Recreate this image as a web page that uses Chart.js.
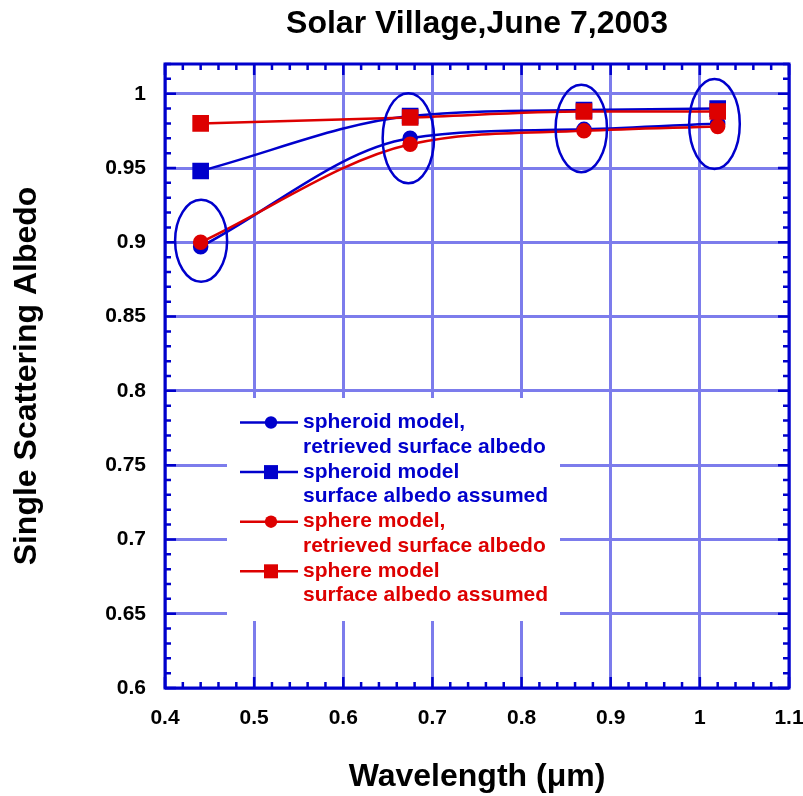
<!DOCTYPE html>
<html>
<head>
<meta charset="utf-8">
<title>Solar Village,June 7,2003</title>
<script src="https://cdn.jsdelivr.net/npm/chart.js@4.4.1/dist/chart.umd.min.js"></script>
<style>
  html, body { margin: 0; padding: 0; background: #fff; }
  canvas { display: block; }
</style>
</head>
<body>
<canvas id="albedo-chart" width="803" height="796"></canvas>
<script>
// 波长 (μm)
const wavelengths = [0.44, 0.675, 0.87, 1.02];

// 单次散射反照率
const spheroidRetrieved = [0.897, 0.970, 0.976, 0.980];
const spheroidAssumed   = [0.948, 0.985, 0.989, 0.990];
const sphereRetrieved   = [0.900, 0.966, 0.975, 0.978];
const sphereAssumed     = [0.980, 0.984, 0.988, 0.988];

// 图例文字 (两行)
const seriesNames = [
    ['spheroid model,', 'retrieved surface albedo'],
    ['spheroid model', 'surface albedo assumed'],
    ['sphere model,', 'retrieved surface albedo'],
    ['sphere model', 'surface albedo assumed']
];

// 刻度
const xTicks = [0.4, 0.5, 0.6, 0.7, 0.8, 0.9, 1, 1.1];
const yTicks = [0.6, 0.65, 0.7, 0.75, 0.8, 0.85, 0.9, 0.95, 1];

// 圈出的点 (中心, 数据坐标)
const circledAt = [[0.4405, 0.901], [0.673, 0.970], [0.867, 0.9766], [1.0164, 0.9796]];

const BLUE = '#0000cc';
const RED = '#dd0000';
const GRID = 'rgb(124,124,236)';
const FONT = 'Liberation Sans, Arial, sans-serif';

function toPoints(ys) {
    return wavelengths.map((x, i) => ({ x: x, y: ys[i] }));
}

function makeSeries(i, ys, color, shape) {
    const r = shape === 'rect' ? 10 : 6.5;
    return {
        label: seriesNames[i].join(' '),
        data: toPoints(ys),
        borderColor: color,
        backgroundColor: color,
        pointBackgroundColor: color,
        pointBorderColor: color,
        pointStyle: shape,
        pointRadius: r,
        pointHoverRadius: r,
        borderWidth: 2.5,
        cubicInterpolationMode: 'monotone',
        order: color === RED ? 0 : 1
    };
}

// 图例、椭圆、内向刻度和边框
const framePlugin = {
    id: 'frame',
    beforeDatasetsDraw(chart) {
        const { ctx, chartArea: a } = chart;
        ctx.save();
        ctx.fillStyle = '#fff';
        ctx.fillRect(a.left + 62, 398, 333, 223);
        ctx.restore();
    },
    afterDatasetsDraw(chart) {
        const { ctx, chartArea: a, scales: { x, y } } = chart;
        ctx.save();

        // 椭圆
        const ovalSize = [[26, 41], [25.7, 45], [25.7, 43.7], [25.3, 45]];
        ctx.strokeStyle = BLUE;
        ctx.lineWidth = 2.5;
        circledAt.forEach((c, i) => {
            ctx.beginPath();
            ctx.ellipse(x.getPixelForValue(c[0]), y.getPixelForValue(c[1]),
                ovalSize[i][0], ovalSize[i][1], 0, 0, Math.PI * 2);
            ctx.stroke();
        });

        // 图例
        ctx.font = 'bold 21px ' + FONT;
        ctx.textBaseline = 'middle';
        ctx.textAlign = 'left';
        chart.data.datasets.forEach((ds, i) => {
            const ly = 422.5 + i * 49.6;
            const lx = a.left + 75;
            ctx.strokeStyle = ds.borderColor;
            ctx.fillStyle = ds.borderColor;
            ctx.lineWidth = 2.5;
            ctx.beginPath();
            ctx.moveTo(lx, ly);
            ctx.lineTo(lx + 58, ly);
            ctx.stroke();
            if (ds.pointStyle === 'rect') {
                ctx.fillRect(lx + 31 - 7, ly - 7, 14, 14);
            } else {
                ctx.beginPath();
                ctx.arc(lx + 31, ly, 6.2, 0, Math.PI * 2);
                ctx.fill();
            }
            ctx.fillText(seriesNames[i][0], lx + 63, ly);
            ctx.fillText(seriesNames[i][1], lx + 63, ly + 24.3);
        });

        // 内向刻度
        ctx.strokeStyle = BLUE;
        ctx.lineWidth = 2.5;
        ctx.beginPath();
        for (let k = 0; k <= 35; k++) {
            const px = x.getPixelForValue(0.4 + k * 0.02);
            const len = k % 5 === 0 ? 11 : 6;
            ctx.moveTo(px, a.bottom); ctx.lineTo(px, a.bottom - len);
            ctx.moveTo(px, a.top); ctx.lineTo(px, a.top + len);
        }
        for (let k = 0; k <= 42; k++) {
            const py = y.getPixelForValue(0.6 + k * 0.01);
            const len = k % 5 === 0 ? 11 : 6;
            ctx.moveTo(a.left, py); ctx.lineTo(a.left + len, py);
            ctx.moveTo(a.right, py); ctx.lineTo(a.right - len, py);
        }
        ctx.stroke();

        // 边框
        ctx.lineWidth = 3;
        ctx.strokeRect(a.left, a.top, a.right - a.left, a.bottom - a.top);
        ctx.restore();
    }
};

const tickFont = { family: FONT, size: 21, weight: 'bold' };
const titleFont = { family: FONT, size: 32, weight: 'bold' };

new Chart(document.getElementById('albedo-chart'), {
    type: 'line',
    data: {
        datasets: [
            makeSeries(0, spheroidRetrieved, BLUE, 'circle'),
            makeSeries(1, spheroidAssumed, BLUE, 'rect'),
            makeSeries(2, sphereRetrieved, RED, 'circle'),
            makeSeries(3, sphereAssumed, RED, 'rect')
        ]
    },
    options: {
        responsive: false,
        animation: false,
        events: [],
        layout: { padding: { left: 0, right: 14, top: 0, bottom: 0 } },
        plugins: {
            legend: { display: false },
            tooltip: { enabled: false },
            title: {
                display: true,
                text: 'Solar Village,June 7,2003',
                fullSize: false,
                color: '#000',
                font: { family: FONT, size: 32, weight: 'bold' },
                padding: { top: 5, bottom: 20.6 }
            }
        },
        scales: {
            x: {
                type: 'linear',
                min: 0.4,
                max: 1.1,
                afterFit: s => {
                    s.height = 108;
                    s.paddingLeft = 0;
                    s.paddingRight = 0;
                },
                afterBuildTicks: s => { s.ticks = xTicks.map(v => ({ value: v })); },
                grid: { color: GRID, lineWidth: 3, drawTicks: false },
                border: { display: false },
                ticks: {
                    padding: 18,
                    color: '#000',
                    font: tickFont,
                    maxRotation: 0,
                    autoSkip: false,
                    callback: v => String(v)
                },
                title: {
                    display: true,
                    text: 'Wavelength (μm)',
                    color: '#000',
                    font: titleFont,
                    padding: { top: 0, bottom: 0 }
                }
            },
            y: {
                type: 'linear',
                min: 0.6,
                max: 1.02,
                afterFit: s => { s.width = 165; },
                afterBuildTicks: s => { s.ticks = yTicks.map(v => ({ value: v })); },
                grid: { color: GRID, lineWidth: 3, drawTicks: false },
                border: { display: false },
                ticks: {
                    padding: 19,
                    color: '#000',
                    font: tickFont,
                    autoSkip: false,
                    callback: v => String(v)
                },
                title: {
                    display: true,
                    text: 'Single Scattering Albedo',
                    color: '#000',
                    font: titleFont,
                    padding: { top: 8, bottom: 0 }
                }
            }
        }
    },
    plugins: [framePlugin]
});
</script>
</body>
</html>
